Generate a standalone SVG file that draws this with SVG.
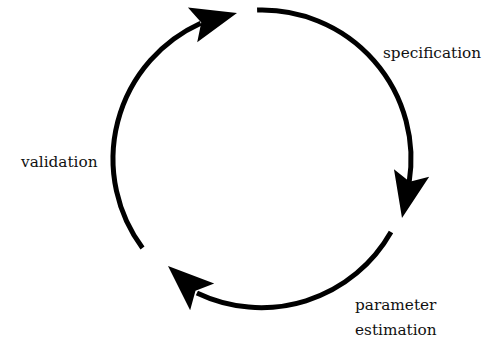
<svg xmlns="http://www.w3.org/2000/svg" xmlns:xlink="http://www.w3.org/1999/xlink" width="485" height="340" viewBox="0 0 485 340">
<style>
.arc{fill:none;stroke:#000;stroke-width:5;stroke-linecap:butt}
.lbl{font-family:"DejaVu Serif","Liberation Serif",serif;font-size:15.3px;fill:#111}
</style>
<defs>
<polygon id="head" points="0,0 -46,-18 -37,0 -46,18" fill="#000"/>
</defs>
<rect width="485" height="340" fill="#fff"/>
<g id="connectors">
<path class="arc" d="M142.5,248 A149,149 0 0 1 200.7,23.2"/>
<use xlink:href="#head" transform="translate(237,13) rotate(-15)"/>
<path class="arc" d="M257.1,10.1 A149,149 0 0 1 409.1,182.8"/>
<use xlink:href="#head" transform="translate(402,218) rotate(102)"/>
<path class="arc" d="M391,232 A149,149 0 0 1 196.9,293"/>
<use xlink:href="#head" transform="translate(168,266) rotate(222)"/>
</g>
<g id="specification"><text class="lbl" x="383" y="58">specification</text></g>
<g id="validation"><text class="lbl" x="21" y="166.5">validation</text></g>
<g id="parameter-estimation"><text class="lbl" x="355" y="310">parameter</text><text class="lbl" x="355" y="335">estimation</text></g>
</svg>
